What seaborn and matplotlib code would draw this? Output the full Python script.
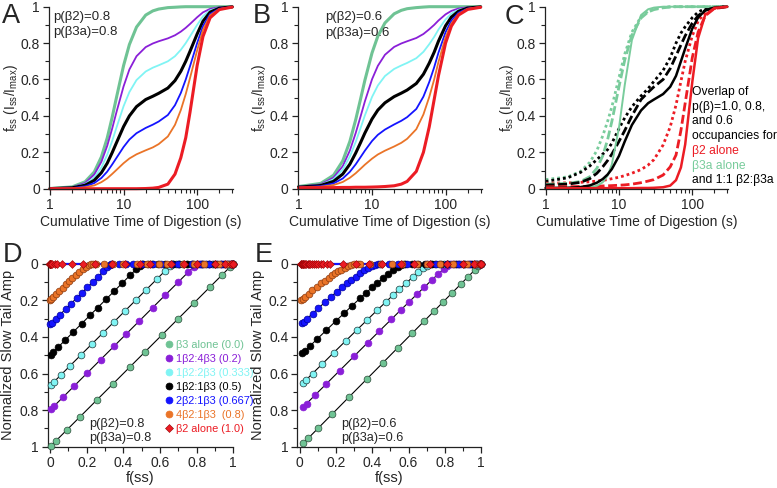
import numpy as np
import matplotlib
matplotlib.use("Agg")
import matplotlib.pyplot as plt
import seaborn as sns
from matplotlib.ticker import FixedLocator, MultipleLocator, LogLocator, NullFormatter, FuncFormatter
from matplotlib.lines import Line2D

# ---------------- data ----------------
T = [1, 2, 3, 4, 5, 6, 7, 8, 10, 12, 15, 20, 25, 30, 40, 50, 60, 70, 80, 100, 120, 150, 200, 300]
mix_labels = ["β3 alone (0.0)", "1β2:4β3 (0.2)", "1β2:2β3 (0.333)", "1β2:1β3 (0.5)",
              "2β2:1β3 (0.667)", "4β2:1β3  (0.8)", "β2 alone (1.0)"]

# Panel A  p=0.8
A_green = [0.001, 0.010, 0.038, 0.092, 0.175, 0.279, 0.392, 0.500, 0.676, 0.792, 0.888, 0.954, 0.977, 0.987, 0.995, 0.997, 0.999, 1, 1, 1, 1, 1, 1, 1]
A_purple = [0.001, 0.008, 0.031, 0.078, 0.148, 0.236, 0.330, 0.420, 0.562, 0.655, 0.728, 0.778, 0.798, 0.810, 0.826, 0.843, 0.863, 0.884, 0.905, 0.942, 0.969, 0.988, 0.997, 1.0]
A_cyan = [0.001, 0.007, 0.025, 0.061, 0.117, 0.187, 0.262, 0.335, 0.453, 0.531, 0.597, 0.644, 0.665, 0.678, 0.700, 0.728, 0.763, 0.800, 0.837, 0.900, 0.947, 0.980, 0.995, 0.999]
A_black = [0.0005, 0.005, 0.019, 0.046, 0.088, 0.140, 0.198, 0.252, 0.341, 0.400, 0.451, 0.490, 0.508, 0.524, 0.553, 0.594, 0.645, 0.700, 0.755, 0.850, 0.920, 0.970, 0.992, 0.999]
A_blue = [0.0003, 0.003, 0.013, 0.031, 0.059, 0.094, 0.133, 0.169, 0.229, 0.270, 0.305, 0.334, 0.352, 0.369, 0.405, 0.459, 0.526, 0.600, 0.673, 0.800, 0.893, 0.960, 0.989, 0.999]
A_orange = [0.0002, 0.002, 0.008, 0.018, 0.036, 0.057, 0.081, 0.103, 0.140, 0.166, 0.189, 0.211, 0.227, 0.245, 0.287, 0.351, 0.432, 0.520, 0.608, 0.760, 0.872, 0.952, 0.987, 0.998]
A_red = [0, 0, 0, 0, 0, 0, 0, 0, 0, 0, 0, 0.001, 0.003, 0.007, 0.025, 0.080, 0.170, 0.280, 0.420, 0.677, 0.836, 0.939, 0.984, 0.998]

# Panel B  p=0.6
B_green = [0.012, 0.029, 0.074, 0.153, 0.260, 0.379, 0.494, 0.596, 0.746, 0.838, 0.911, 0.961, 0.980, 0.989, 0.995, 0.998, 1, 1, 1, 1, 1, 1, 1, 1]
B_purple = [0.011, 0.024, 0.061, 0.124, 0.210, 0.306, 0.398, 0.480, 0.601, 0.675, 0.736, 0.779, 0.798, 0.810, 0.828, 0.850, 0.876, 0.900, 0.924, 0.958, 0.977, 0.990, 0.997, 0.999]
B_cyan = [0.010, 0.021, 0.052, 0.105, 0.177, 0.257, 0.334, 0.403, 0.504, 0.567, 0.619, 0.658, 0.677, 0.691, 0.717, 0.752, 0.794, 0.834, 0.874, 0.930, 0.962, 0.983, 0.995, 0.999]
B_black = [0.0085, 0.0175, 0.0405, 0.0805, 0.135, 0.196, 0.254, 0.306, 0.383, 0.432, 0.472, 0.506, 0.525, 0.542, 0.578, 0.629, 0.690, 0.750, 0.810, 0.895, 0.943, 0.975, 0.993, 0.999]
B_blue = [0.007, 0.014, 0.029, 0.056, 0.093, 0.134, 0.174, 0.209, 0.262, 0.296, 0.325, 0.353, 0.373, 0.393, 0.438, 0.506, 0.586, 0.667, 0.747, 0.860, 0.923, 0.967, 0.990, 0.998]
B_orange = [0.006, 0.011, 0.020, 0.037, 0.060, 0.085, 0.110, 0.132, 0.165, 0.188, 0.209, 0.232, 0.252, 0.274, 0.327, 0.408, 0.504, 0.600, 0.696, 0.832, 0.908, 0.960, 0.988, 0.998]
B_red = [0.005, 0.006, 0.006, 0.007, 0.007, 0.008, 0.008, 0.008, 0.009, 0.010, 0.012, 0.016, 0.025, 0.040, 0.095, 0.200, 0.340, 0.490, 0.620, 0.800, 0.893, 0.954, 0.985, 0.997]

# Panel C  occupancy 1.0 (solid), 0.8 (dashed), 0.6 (dotted)
C_green_10 = [0.005, 0.005, 0.006, 0.008, 0.016, 0.035, 0.072, 0.134, 0.335, 0.571, 0.816, 0.954, 0.986, 0.995, 1, 1, 1, 1, 1, 1, 1, 1, 1, 1]
C_green_08 = [0.025, 0.029, 0.040, 0.066, 0.112, 0.180, 0.270, 0.370, 0.560, 0.708, 0.843, 0.938, 0.971, 0.984, 0.994, 0.998, 1, 1, 1, 1, 1, 1, 1, 1]
C_green_06 = [0.050, 0.065, 0.095, 0.145, 0.210, 0.290, 0.370, 0.450, 0.610, 0.740, 0.860, 0.945, 0.975, 0.988, 0.996, 1, 1, 1, 1, 1, 1, 1, 1, 1]
C_black_10 = [0.004, 0.005, 0.009, 0.018, 0.033, 0.053, 0.078, 0.108, 0.180, 0.260, 0.350, 0.430, 0.470, 0.490, 0.520, 0.560, 0.620, 0.700, 0.770, 0.880, 0.940, 0.980, 0.995, 1.0]
C_black_08 = [0.020, 0.025, 0.035, 0.055, 0.085, 0.120, 0.155, 0.190, 0.260, 0.320, 0.400, 0.490, 0.530, 0.560, 0.600, 0.660, 0.730, 0.790, 0.840, 0.910, 0.950, 0.980, 0.995, 1.0]
C_black_06 = [0.040, 0.060, 0.090, 0.125, 0.160, 0.190, 0.215, 0.250, 0.330, 0.390, 0.450, 0.510, 0.550, 0.590, 0.650, 0.720, 0.800, 0.855, 0.890, 0.940, 0.970, 0.990, 0.998, 1.0]
C_red_10 = [0.003, 0.003, 0.003, 0.003, 0.003, 0.003, 0.003, 0.003, 0.003, 0.003, 0.003, 0.004, 0.004, 0.005, 0.008, 0.017, 0.047, 0.117, 0.243, 0.586, 0.827, 0.955, 0.993, 1.0]
C_red_08 = [0.010, 0.011, 0.012, 0.013, 0.014, 0.015, 0.016, 0.017, 0.019, 0.021, 0.025, 0.033, 0.042, 0.050, 0.075, 0.120, 0.185, 0.320, 0.470, 0.720, 0.860, 0.950, 0.990, 1.0]
C_red_06 = [0.030, 0.032, 0.035, 0.038, 0.042, 0.046, 0.050, 0.055, 0.063, 0.072, 0.085, 0.105, 0.130, 0.160, 0.240, 0.340, 0.460, 0.590, 0.700, 0.840, 0.920, 0.970, 0.990, 1.0]

# Panel D  (f(ss), normalized slow tail amp), p=0.8
D_green_x = [0.005, 0.03, 0.09, 0.165, 0.255, 0.345, 0.435, 0.52, 0.61, 0.70, 0.785, 0.875, 0.94, 0.98, 1.0]
D_green_y = [0.995, 0.97, 0.91, 0.835, 0.745, 0.655, 0.565, 0.48, 0.39, 0.30, 0.215, 0.125, 0.06, 0.02, 0.0]
D_purple_x = [0.004, 0.024, 0.072, 0.132, 0.204, 0.276, 0.348, 0.416, 0.488, 0.56, 0.628, 0.70, 0.752, 0.784, 0.80,
              0.802, 0.813, 0.824, 0.836, 0.85, 0.868, 0.882, 0.898, 0.91, 0.932, 0.946, 0.96, 0.98, 0.991, 0.998, 1.0]
D_purple_y = [0.796, 0.776, 0.728, 0.668, 0.596, 0.524, 0.452, 0.384, 0.312, 0.24, 0.172, 0.10, 0.048, 0.016, 0.0] + [0.0] * 16
D_cyan_x = [0.003, 0.02, 0.06, 0.11, 0.17, 0.23, 0.29, 0.347, 0.407, 0.467, 0.524, 0.584, 0.627, 0.654, 0.667,
            0.67, 0.688, 0.706, 0.727, 0.75, 0.78, 0.804, 0.83, 0.85, 0.887, 0.91, 0.933, 0.967, 0.985, 0.997, 1.0]
D_cyan_y = [0.664, 0.647, 0.607, 0.557, 0.497, 0.437, 0.377, 0.32, 0.26, 0.20, 0.143, 0.083, 0.04, 0.013, 0.0] + [0.0] * 16
D_black_x = [0.0025, 0.015, 0.045, 0.0825, 0.1275, 0.1725, 0.2175, 0.26, 0.305, 0.35, 0.3925, 0.4375, 0.47, 0.49, 0.5,
             0.505, 0.532, 0.559, 0.59, 0.625, 0.67, 0.705, 0.745, 0.775, 0.83, 0.865, 0.90, 0.95, 0.978, 0.995, 1.0]
D_black_y = [0.4975, 0.485, 0.455, 0.4175, 0.3725, 0.3275, 0.2825, 0.24, 0.195, 0.15, 0.1075, 0.0625, 0.03, 0.01, 0.0] + [0.0] * 16
D_blue_x = [0.0017, 0.01, 0.03, 0.055, 0.085, 0.115, 0.145, 0.173, 0.203, 0.233, 0.261, 0.291, 0.313, 0.326, 0.333,
            0.34, 0.376, 0.412, 0.453, 0.5, 0.56, 0.607, 0.66, 0.70, 0.773, 0.82, 0.867, 0.933, 0.97, 0.993, 1.0]
D_blue_y = [0.331, 0.323, 0.303, 0.278, 0.248, 0.218, 0.188, 0.16, 0.13, 0.10, 0.072, 0.042, 0.02, 0.007, 0.0] + [0.0] * 16
D_orange_x = [0.001, 0.006, 0.018, 0.033, 0.051, 0.069, 0.087, 0.104, 0.122, 0.14, 0.158, 0.178, 0.195, 0.21, 0.225,
              0.235, 0.251, 0.294, 0.344, 0.40, 0.472, 0.528, 0.592, 0.64, 0.728, 0.784, 0.84, 0.92, 0.964, 0.992, 1.0]
D_orange_y = [0.199, 0.194, 0.182, 0.167, 0.149, 0.131, 0.113, 0.096, 0.078, 0.06, 0.044, 0.028, 0.016, 0.007, 0.002] + [0.0] * 16
D_red_x = [0, 0, 0, 0, 0, 0, 0, 0, 0, 0, 0, 0.002, 0.005, 0.012, 0.025,
           0.04, 0.064, 0.118, 0.18, 0.245, 0.336, 0.41, 0.49, 0.545, 0.66, 0.73, 0.80, 0.90, 0.955, 0.99, 1.0]
D_red_y = [0.0] * 31

# Panel E  p=0.6
E_green_x = [0.02, 0.045, 0.10, 0.18, 0.27, 0.37, 0.46, 0.54, 0.62, 0.685, 0.74, 0.79, 0.84, 0.89, 0.93, 0.965, 0.985, 1.0]
E_green_y = [0.98, 0.955, 0.90, 0.82, 0.73, 0.63, 0.54, 0.46, 0.38, 0.315, 0.26, 0.21, 0.16, 0.11, 0.07, 0.035, 0.015, 0.0]
E_purple_x = [0.017, 0.038, 0.082, 0.147, 0.22, 0.301, 0.374, 0.439, 0.505, 0.558, 0.604, 0.645, 0.687, 0.73, 0.764, 0.795, 0.814, 0.83,
              0.833, 0.847, 0.862, 0.877, 0.891, 0.911, 0.926, 0.944, 0.962, 0.98, 0.992, 0.999, 1.0]
E_purple_y = [0.784, 0.764, 0.72, 0.656, 0.584, 0.504, 0.432, 0.368, 0.304, 0.252, 0.208, 0.168, 0.128, 0.088, 0.056, 0.028, 0.012, 0.0] + [0.0] * 13
E_cyan_x = [0.015, 0.033, 0.07, 0.125, 0.186, 0.255, 0.317, 0.372, 0.428, 0.474, 0.513, 0.549, 0.586, 0.623, 0.654, 0.682, 0.70, 0.717,
            0.722, 0.746, 0.77, 0.795, 0.819, 0.852, 0.876, 0.907, 0.937, 0.967, 0.987, 0.998, 1.0]
E_cyan_y = [0.654, 0.637, 0.60, 0.547, 0.487, 0.42, 0.36, 0.307, 0.253, 0.21, 0.173, 0.14, 0.107, 0.073, 0.047, 0.023, 0.01, 0.0] + [0.0] * 13
E_black_x = [0.0125, 0.0265, 0.0555, 0.0975, 0.1445, 0.197, 0.245, 0.288, 0.3315, 0.3675, 0.399, 0.4285, 0.4585, 0.489, 0.515, 0.54, 0.5575, 0.575,
             0.582, 0.6185, 0.655, 0.6915, 0.728, 0.778, 0.814, 0.86, 0.905, 0.95, 0.98, 0.9965, 1.0]
E_black_y = [0.49, 0.4775, 0.45, 0.41, 0.365, 0.315, 0.27, 0.23, 0.19, 0.1575, 0.13, 0.105, 0.08, 0.055, 0.035, 0.0175, 0.0075, 0.0] + [0.0] * 13
E_blue_x = [0.01, 0.0203, 0.0406, 0.07, 0.1027, 0.139, 0.173, 0.204, 0.235, 0.262, 0.285, 0.308, 0.331, 0.355, 0.377, 0.398, 0.415, 0.433,
            0.442, 0.491, 0.54, 0.589, 0.637, 0.704, 0.752, 0.814, 0.874, 0.934, 0.973, 0.995, 1.0]
E_blue_y = [0.3267, 0.318, 0.30, 0.273, 0.243, 0.21, 0.18, 0.153, 0.127, 0.105, 0.0867, 0.07, 0.0533, 0.0367, 0.0233, 0.0117, 0.005, 0.0] + [0.0] * 13
E_orange_x = [0.008, 0.0154, 0.0288, 0.048, 0.0692, 0.0932, 0.116, 0.1368, 0.1584, 0.177, 0.1944, 0.2116, 0.2296, 0.2484, 0.266, 0.285, 0.301, 0.32,
              0.331, 0.39, 0.448, 0.506, 0.565, 0.645, 0.702, 0.776, 0.848, 0.92, 0.968, 0.994, 1.0]
E_orange_y = [0.196, 0.191, 0.18, 0.164, 0.146, 0.126, 0.108, 0.092, 0.076, 0.063, 0.052, 0.042, 0.032, 0.022, 0.014, 0.007, 0.003, 0.0] + [0.0] * 13
E_red_x = [0.005, 0.008, 0.011, 0.015, 0.019, 0.024, 0.03, 0.036, 0.043, 0.05, 0.058, 0.067, 0.077, 0.088, 0.10, 0.115, 0.13, 0.15,
           0.164, 0.237, 0.31, 0.383, 0.456, 0.556, 0.628, 0.72, 0.81, 0.90, 0.96, 0.993, 1.0]
E_red_y = [0.0] * 31

# ---------------- style ----------------
GREEN = "#6fc394"
PURPLE = "#8a1fd8"
CYAN = "#80f4f4"
BLACK = "#000000"
BLUE = "#1414ff"
ORANGE = "#ea7428"
RED = "#ec1c24"
COLORS = [GREEN, PURPLE, CYAN, BLACK, BLUE, ORANGE, RED]
EDGES = ["#2a4a38", PURPLE, "#203838", BLACK, "#0000a0", "#8a3a10", "#900000"]

sns.set_theme(style="ticks")
plt.rcParams["font.family"] = ["Liberation Sans", "DejaVu Sans"]
plt.rcParams["mathtext.fontset"] = "custom"
plt.rcParams["mathtext.rm"] = "Liberation Sans"
plt.rcParams["mathtext.it"] = "Liberation Sans:italic"
plt.rcParams["axes.linewidth"] = 0.9
plt.rcParams["axes.edgecolor"] = "#222222"

W, H = 777, 488
fig = plt.figure(figsize=(W / 100, H / 100), dpi=100)


def box(l, t, r, b):
    return [l / W, 1 - b / H, (r - l) / W, (b - t) / H]


fmt = FuncFormatter(lambda v, p: f"{v:g}")


def style_curve(ax):
    ax.set_xscale("log")
    ax.set_xlim(0.97, 310)
    ax.set_ylim(0, 1)
    ax.xaxis.set_major_locator(FixedLocator([1, 10, 100]))
    ax.xaxis.set_major_formatter(fmt)
    ax.xaxis.set_minor_locator(LogLocator(base=10, subs=np.arange(2, 10), numticks=30))
    ax.xaxis.set_minor_formatter(NullFormatter())
    ax.yaxis.set_major_locator(FixedLocator([0, 0.2, 0.4, 0.6, 0.8, 1.0]))
    ax.yaxis.set_minor_locator(MultipleLocator(0.1))
    ax.yaxis.set_major_formatter(fmt)
    sns.despine(ax=ax)
    ax.tick_params(which="major", length=4.5, width=0.9, labelsize=10, pad=2, color="#222222")
    ax.tick_params(which="minor", length=3, width=0.8, color="#222222")
    ax.set_xlabel("Cumulative Time of Digestion (s)", fontsize=10, labelpad=2)
    ax.set_ylabel(r"f$_{\mathrm{ss}}$ (I$_{\mathrm{ss}}$/I$_{\mathrm{max}}$)", fontsize=9.8)
    ax.yaxis.set_label_coords(-0.158, 0.5)


def style_amp(ax):
    ax.set_xlim(-0.014, 1.0)
    ax.set_ylim(1.0, 0.0)
    for a in (ax.xaxis, ax.yaxis):
        a.set_major_locator(FixedLocator([0, 0.2, 0.4, 0.6, 0.8, 1.0]))
        a.set_minor_locator(MultipleLocator(0.1))
        a.set_major_formatter(fmt)
    sns.despine(ax=ax)
    ax.tick_params(which="major", length=4.5, width=0.9, labelsize=10, pad=2, color="#222222")
    ax.tick_params(which="minor", length=3, width=0.8, color="#222222")
    ax.set_xlabel("f(ss)", fontsize=10.5, labelpad=1)
    ax.set_ylabel("Normalized Slow Tail Amp", fontsize=10.5)


def curves(ax, series):
    widths = [2.2, 1.3, 1.3, 2.2, 1.3, 1.3, 2.2]
    for ys, c, w in zip(series, COLORS, widths):
        sns.lineplot(x=T, y=ys, ax=ax, color=c, lw=w, sort=False, estimator=None, clip_on=False)


def amp_panel(ax, xs_list, ys_list):
    for i, (xs, ys) in enumerate(zip(xs_list, ys_list)):
        if i < 6:
            sns.lineplot(x=xs, y=ys, ax=ax, color="black", lw=0.8, sort=False, estimator=None,
                         clip_on=False, zorder=2)
    # red series line along the top drawn in blue
    sns.lineplot(x=xs_list[6], y=ys_list[6], ax=ax, color=BLUE, lw=1.6, sort=False, estimator=None,
                 clip_on=False, zorder=2.5)
    for i, (xs, ys) in enumerate(zip(xs_list, ys_list)):
        if i == 6:
            sns.scatterplot(x=xs, y=ys, ax=ax, color=RED, edgecolor=EDGES[6], linewidth=0.4,
                            marker="D", s=16, zorder=4, clip_on=False, legend=False)
        else:
            sns.scatterplot(x=xs, y=ys, ax=ax, color=COLORS[i], edgecolor=EDGES[i], linewidth=0.5,
                            marker="o", s=24, zorder=3, clip_on=False, legend=False)


# ---- A ----
axA = fig.add_axes(box(49, 6.7, 233.3, 188.7))
curves(axA, [A_green, A_purple, A_cyan, A_black, A_blue, A_orange, A_red])
style_curve(axA)

# ---- B ----
axB = fig.add_axes(box(297.5, 6.7, 481.7, 188.7))
curves(axB, [B_green, B_purple, B_cyan, B_black, B_blue, B_orange, B_red])
style_curve(axB)

# ---- C ----
axC = fig.add_axes(box(544.7, 6.7, 728.3, 188.7))
CG = "#79cc9c"
dash = (0, (3.2, 1.3))
dot = (0, (1, 1.1))
for ys, c in [(C_green_06, CG), (C_black_06, BLACK), (C_red_06, RED)]:
    sns.lineplot(x=T, y=ys, ax=axC, color=c, lw=2.0, linestyle=dot, sort=False, estimator=None, clip_on=False)
for ys, c in [(C_green_08, CG), (C_black_08, BLACK), (C_red_08, RED)]:
    sns.lineplot(x=T, y=ys, ax=axC, color=c, lw=2.0, linestyle=dash, sort=False, estimator=None, clip_on=False)
for ys, c, w in [(C_green_10, CG, 1.4), (C_black_10, BLACK, 1.8), (C_red_10, RED, 1.8)]:
    sns.lineplot(x=T, y=ys, ax=axC, color=c, lw=w, sort=False, estimator=None, clip_on=False)
style_curve(axC)

# ---- D ----
axD = fig.add_axes(box(47.5, 263.7, 233.3, 446.7))
amp_panel(axD, [D_green_x, D_purple_x, D_cyan_x, D_black_x, D_blue_x, D_orange_x, D_red_x],
          [D_green_y, D_purple_y, D_cyan_y, D_black_y, D_blue_y, D_orange_y, D_red_y])
style_amp(axD)
axD.yaxis.set_label_coords(-0.175, 0.5)

handles = []
for i in range(7):
    if i == 6:
        handles.append(Line2D([], [], ls="", marker="D", color=RED, markersize=3.6, markeredgecolor=EDGES[6], markeredgewidth=0.4))
    else:
        handles.append(Line2D([], [], ls="", marker="o", color=COLORS[i], markersize=5,
                              markeredgecolor=COLORS[i], markeredgewidth=0.5))
axD.legend(handles, mix_labels, loc="upper left", bbox_to_anchor=(0.625, 0.583), frameon=False,
           fontsize=7.9, handlelength=1.0, handletextpad=0.15, labelspacing=0.36,
           borderaxespad=0, borderpad=0, labelcolor=COLORS)

# ---- E ----
axE = fig.add_axes(box(297.3, 263.7, 481.0, 446.7))
amp_panel(axE, [E_green_x, E_purple_x, E_cyan_x, E_black_x, E_blue_x, E_orange_x, E_red_x],
          [E_green_y, E_purple_y, E_cyan_y, E_black_y, E_blue_y, E_orange_y, E_red_y])
style_amp(axE)
axE.yaxis.set_label_coords(-0.175, 0.5)

# ---- annotations ----
def ftext(x, y, s, **kw):
    fig.text(x / W, 1 - y / H, s, **kw)

for x, y, s in [(2, 23, "A"), (253, 23, "B"), (505, 24, "C"), (3, 262, "D"), (255, 262, "E")]:
    ftext(x, y, s, fontsize=19.5, va="baseline", ha="left")

ftext(53, 17, "p(β2)=0.8", fontsize=9.5, va="center")
ftext(53, 32, "p(β3a)=0.8", fontsize=9.5, va="center")
ftext(325, 17, "p(β2)=0.6", fontsize=9.5, va="center")
ftext(325, 33, "p(β3a)=0.6", fontsize=9.5, va="center")
ftext(89.5, 423.5, "p(β2)=0.8", fontsize=9.2, va="center")
ftext(89.5, 438.5, "p(β3a)=0.8", fontsize=9.2, va="center")
ftext(340.7, 424.3, "p(β2)=0.6", fontsize=9.2, va="center")
ftext(340.7, 438.5, "p(β3a)=0.6", fontsize=9.2, va="center")

c_lines = [("Overlap of", "black"), ("p(β)=1.0, 0.8,", "black"), ("and 0.6", "black"),
           ("occupancies for", "black"), ("β2 alone", RED), ("β3a alone", CG), ("and 1:1 β2:β3a", "black")]
for k, (s, c) in enumerate(c_lines):
    ftext(691.7, 92 + 14.7 * k, s, fontsize=8.7, va="center", color=c)

fig.savefig("out.png", dpi=100)
